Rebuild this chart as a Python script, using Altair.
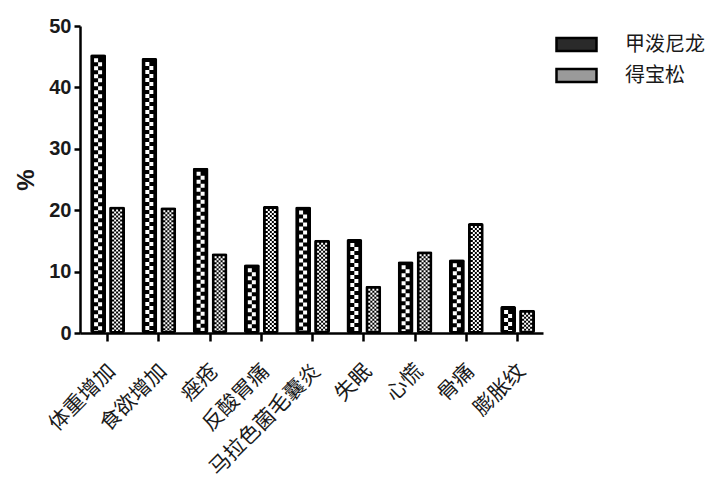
import altair as alt
import pandas as pd

categories = ["体重增加", "食欲增加", "痤疮", "反酸胃痛", "马拉色菌毛囊炎", "失眠", "心慌", "骨痛", "膨胀纹"]
series_names = ["甲泼尼龙", "得宝松"]
methyl = [45.4, 44.8, 26.9, 11.2, 20.6, 15.3, 11.7, 12.0, 4.4]
diprospan = [20.6, 20.5, 13.0, 20.7, 15.2, 7.7, 13.3, 17.9, 3.8]
y_ticks = [0, 10, 20, 30, 40, 50]

rows = []
for i, c in enumerate(categories):
    rows.append({"cat": c, "series": series_names[0], "value": methyl[i]})
    rows.append({"cat": c, "series": series_names[1], "value": diprospan[i]})
df = pd.DataFrame(rows)

FONT_CJK = "Noto Sans CJK SC"
FONT = "Liberation Sans"

x_scale = alt.Scale(paddingInner=0.32, paddingOuter=0.177, align=0.56)
x_axis = alt.Axis(title=None, labelAngle=-45, labelAlign="right", labelBaseline="top",
                  labelFont=FONT_CJK, labelFontSize=21, labelColor="#1a1a1a",
                  labelPadding=19, labelOffset=-3, tickSize=8, tickWidth=2.5,
                  domainWidth=2.5, domainColor="black", tickColor="black")


def x_enc(**kw):
    return alt.X("cat:N", sort=categories, scale=x_scale, axis=x_axis, **kw)


xoff = alt.XOffset("series:N", sort=series_names,
                   scale=alt.Scale(domain=series_names, paddingInner=0.158, paddingOuter=0))
y_enc = alt.Y(
    "value:Q",
    scale=alt.Scale(domain=[0, 50], nice=False),
    axis=alt.Axis(values=y_ticks, title="%", grid=False, titleFont=FONT, titleFontSize=24,
                  titleFontWeight="bold", titleColor="#1a1a1a", titlePadding=10,
                  labelFont=FONT, labelFontSize=20, labelFontWeight="bold", labelColor="#1a1a1a",
                  labelPadding=3, tickSize=6, tickWidth=2.5, domainWidth=2.5,
                  domainColor="black", tickColor="black"),
)

bars = alt.Chart(df).mark_bar(color="black", cornerRadius=2).encode(
    x=x_enc(), xOffset=xoff, y=y_enc
)

layers = [bars]
# half distance between the two bars of a group (pixels): pattern placement only
SHIFT = 9.5
# coarse checker for 甲泼尼龙
for dx, off in [(-2, 0), (2, 4)]:
    layers.append(
        alt.Chart(df).transform_filter(alt.datum.series == series_names[0])
        .mark_rule(color="white", strokeWidth=4, strokeDash=[4, 4], strokeDashOffset=off,
                   xOffset=-SHIFT + dx, yOffset=4, y2Offset=-2)
        .encode(x=x_enc(bandPosition=0.5), y=y_enc, y2=alt.datum(0))
    )
# fine checker for 得宝松
for k, dx in enumerate([-4, -2, 0, 2, 4]):
    layers.append(
        alt.Chart(df).transform_filter(alt.datum.series == series_names[1])
        .mark_rule(color="white", strokeWidth=2, strokeDash=[2, 2], strokeDashOffset=2 * (k % 2),
                   xOffset=SHIFT + dx, yOffset=3, y2Offset=-2)
        .encode(x=x_enc(bandPosition=0.5), y=y_enc, y2=alt.datum(0))
    )

legend_carrier = (
    alt.Chart(df).transform_filter("false")
    .mark_bar(stroke="black", strokeWidth=2.5)
    .encode(color=alt.Color(
        "series:N",
        scale=alt.Scale(domain=series_names, range=["#2a2a2a", "#9a9a9a"]),
        legend=alt.Legend(title=None, orient="none", legendX=485, legendY=7,
                          symbolType="M-2,-0.65H2V0.65H-2Z", symbolSize=400,
                          symbolStrokeColor="black", symbolStrokeWidth=2.5,
                          symbolOpacity=1, labelFont=FONT_CJK, labelFontSize=20,
                          labelColor="#1a1a1a", labelOffset=37, rowPadding=8, padding=0),
    ))
)
layers.append(legend_carrier)

chart = (
    alt.layer(*layers)
    .properties(width=463, height=307, autosize=alt.AutoSizeParams(type="none"),
                padding={"left": 72, "top": 18, "right": 166, "bottom": 150})
    .configure_view(stroke=None)
)

chart.save("out.html", embed_options={"renderer": "svg", "actions": False})
